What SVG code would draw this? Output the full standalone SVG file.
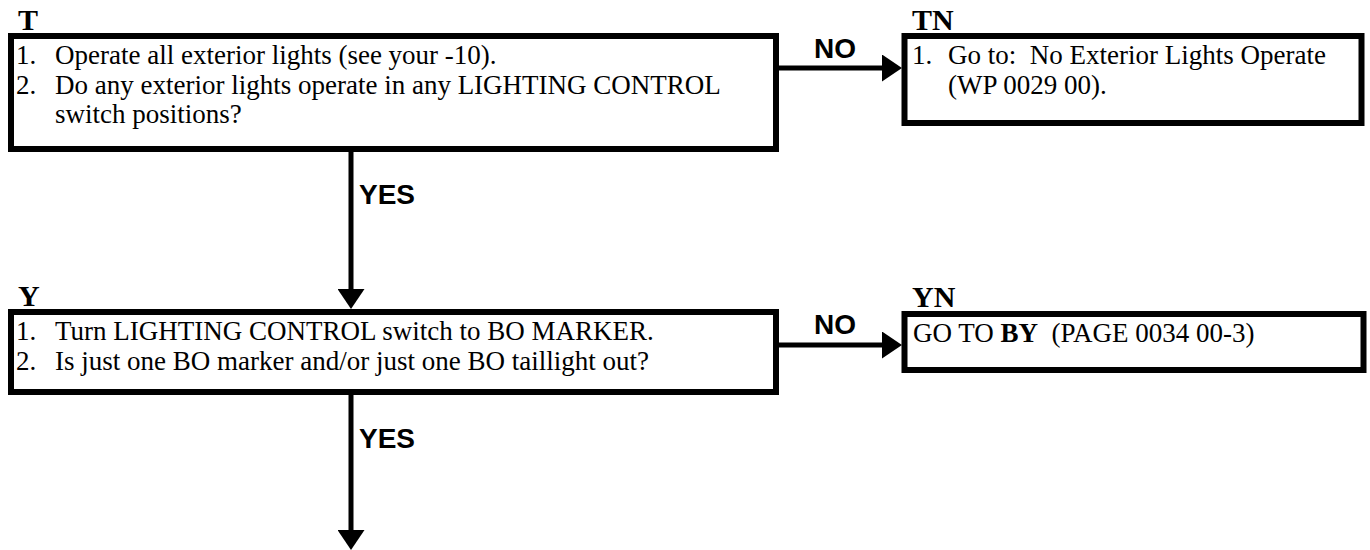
<svg xmlns="http://www.w3.org/2000/svg" width="1370" height="550" viewBox="0 0 1370 550">
  <style>
    .box { fill: #ffffff; stroke: #000000; stroke-width: 6; }
    .body { font-family: "Liberation Serif", "Times New Roman", serif; font-size: 27px; fill: #000000; white-space: pre; }
    .tag { font-family: "Liberation Serif", "Times New Roman", serif; font-size: 30px; font-weight: bold; fill: #000000; }
    .lbl { font-family: "Liberation Sans", Arial, sans-serif; font-size: 28px; font-weight: bold; fill: #000000; }
    .conn { stroke: #000000; stroke-width: 5; fill: none; marker-end: url(#arrow); }
    .b { font-weight: bold; }
  </style>
  <defs>
    <marker id="arrow" markerUnits="userSpaceOnUse" markerWidth="20" markerHeight="27" refX="0" refY="13.5" orient="auto">
      <path d="M0,0 L20,13.5 L0,27 Z" fill="#000000"/>
    </marker>
  </defs>
  <rect width="1370" height="550" fill="#ffffff"/>

  <g id="node-T">
    <text class="tag" x="18" y="30">T</text>
    <rect class="box" x="11" y="36" width="765" height="113"/>
    <text class="body" x="16" y="64">1.</text>
    <text class="body" x="55" y="64">Operate all exterior lights (see your -10).</text>
    <text class="body" x="16" y="93.5">2.</text>
    <text class="body" x="55" y="93.5">Do any exterior lights operate in any LIGHTING CONTROL</text>
    <text class="body" x="55" y="123">switch positions?</text>
  </g>

  <g id="node-TN">
    <text class="tag" x="912" y="30">TN</text>
    <rect class="box" x="904.5" y="36" width="457" height="87"/>
    <text class="body" x="912" y="64">1.</text>
    <text class="body" x="948" y="64">Go to:  No Exterior Lights Operate</text>
    <text class="body" x="948" y="93.5">(WP 0029 00).</text>
  </g>

  <g id="node-Y">
    <text class="tag" x="18" y="306">Y</text>
    <rect class="box" x="11" y="312" width="765" height="80"/>
    <text class="body" x="16" y="340">1.</text>
    <text class="body" x="55" y="340">Turn LIGHTING CONTROL switch to BO MARKER.</text>
    <text class="body" x="16" y="369.5">2.</text>
    <text class="body" x="55" y="369.5">Is just one BO marker and/or just one BO taillight out?</text>
  </g>

  <g id="node-YN">
    <text class="tag" x="912" y="307">YN</text>
    <rect class="box" x="904.5" y="314" width="459" height="56"/>
    <text class="body" x="913" y="342">GO TO <tspan class="b">BY</tspan>  (PAGE 0034 00-3)</text>
  </g>

  <g id="connectors">
    <line class="conn" x1="779" y1="68" x2="882" y2="68"/>
    <text class="lbl" x="814" y="58">NO</text>
    <line class="conn" x1="351" y1="152" x2="351" y2="289"/>
    <text class="lbl" x="359" y="204">YES</text>
    <line class="conn" x1="779" y1="345" x2="882" y2="345"/>
    <text class="lbl" x="814" y="334">NO</text>
    <line class="conn" x1="351" y1="395" x2="351" y2="530"/>
    <text class="lbl" x="359" y="448">YES</text>
  </g>
</svg>
